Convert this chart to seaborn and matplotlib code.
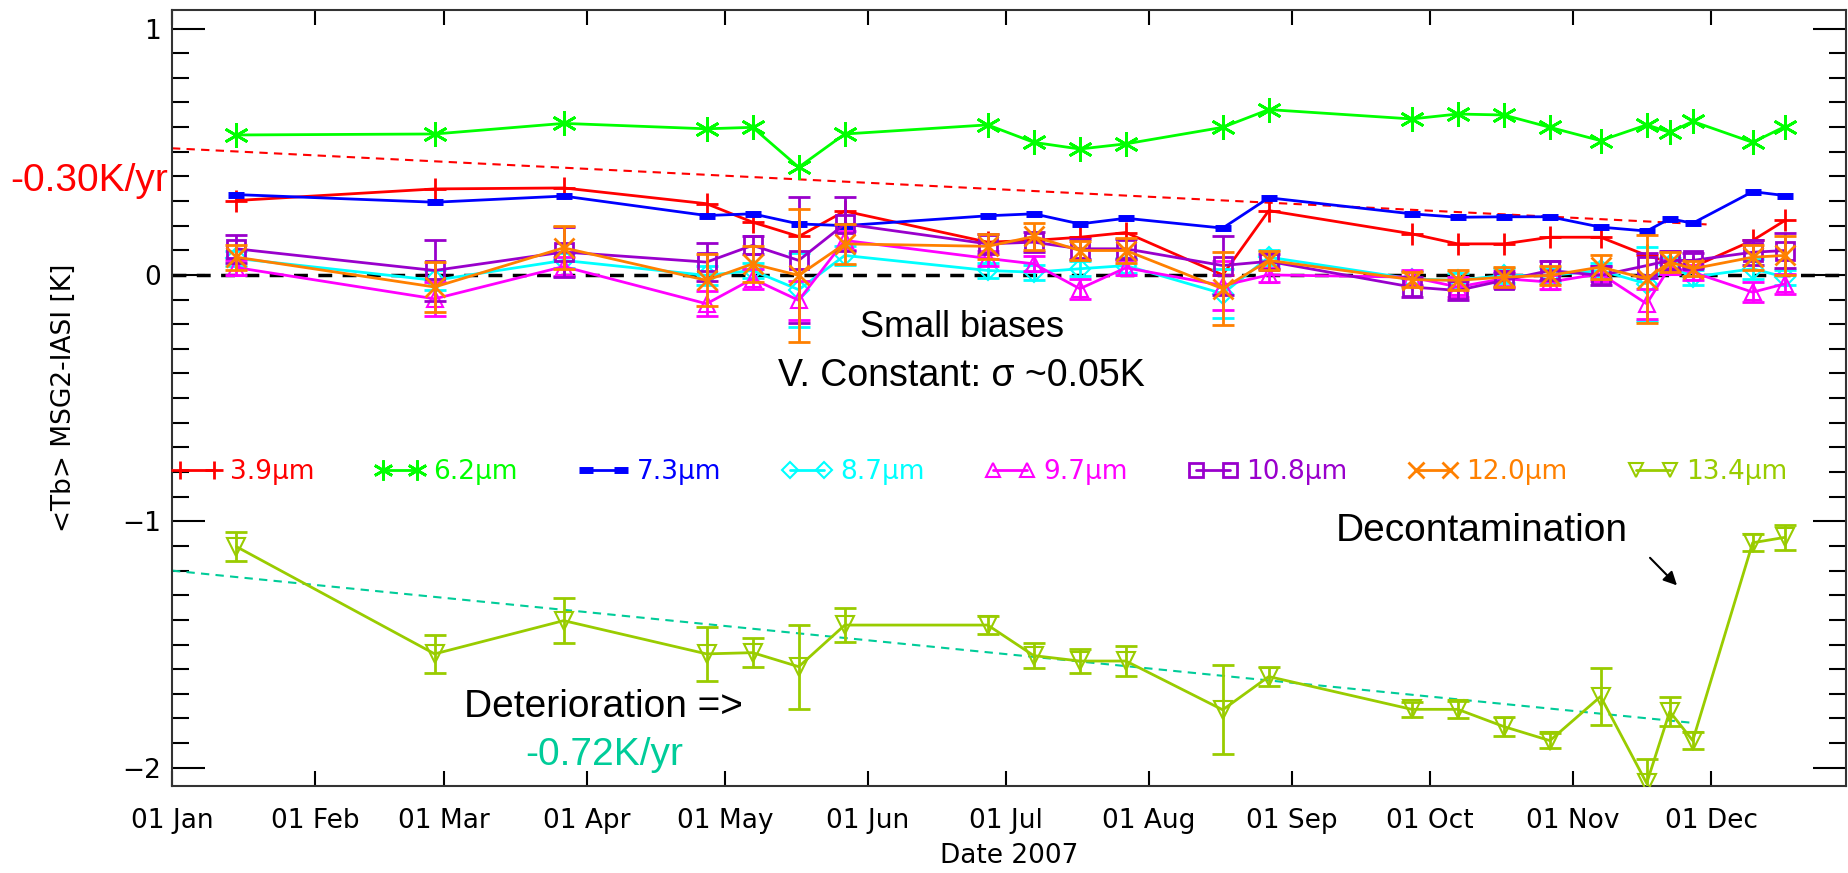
import pandas as pd
import numpy as np
import matplotlib
matplotlib.use("Agg")
import matplotlib.pyplot as plt
import matplotlib.dates as mdates
from matplotlib.ticker import MultipleLocator
from matplotlib.lines import Line2D
import seaborn as sns

# sampling dates (2007)
dates = ["2007-01-15", "2007-02-27", "2007-03-27", "2007-04-27", "2007-05-07", "2007-05-17",
         "2007-05-27", "2007-06-27", "2007-07-07", "2007-07-17", "2007-07-27", "2007-08-17",
         "2007-08-27", "2007-09-27", "2007-10-07", "2007-10-17", "2007-10-27", "2007-11-07",
         "2007-11-17", "2007-11-22", "2007-11-27", "2007-12-10", "2007-12-17"]

ch39 = [0.302, 0.349, 0.353, 0.289, 0.214, 0.156, 0.259, 0.133, 0.140, 0.153, 0.172, 0.000,
        0.261, 0.167, 0.126, 0.126, 0.153, 0.153, 0.079, 0.052, 0.032, 0.140, 0.221]
ch62 = [0.568, 0.572, 0.615, 0.593, 0.599, 0.437, 0.572, 0.609, 0.538, 0.511, 0.532, 0.599,
        0.671, 0.633, 0.653, 0.649, 0.599, 0.545, 0.609, 0.579, 0.623, 0.538, 0.602]
ch73 = [0.326, 0.295, 0.320, 0.241, 0.248, 0.207, 0.200, 0.240, 0.248, 0.207, 0.230, 0.190,
        0.313, 0.248, 0.234, 0.236, 0.236, 0.194, 0.178, 0.228, 0.210, 0.338, 0.322]
ch87 = [0.067, -0.022, 0.059, -0.002, 0.018, -0.060, 0.079, 0.018, 0.011, 0.025, 0.038, -0.076,
        0.072, -0.016, -0.022, -0.002, -0.002, 0.018, -0.036, 0.040, -0.009, 0.025, -0.009]
ch97 = [0.030, -0.097, 0.034, -0.117, -0.016, -0.103, 0.140, 0.067, 0.045, -0.056, 0.029, -0.043,
        0.000, -0.009, -0.049, -0.015, -0.029, 0.005, -0.117, 0.032, 0.011, -0.070, -0.036]
ch108 = [0.106, 0.018, 0.093, 0.052, 0.120, 0.059, 0.207, 0.126, 0.133, 0.106, 0.106, 0.038,
         0.055, -0.049, -0.063, -0.022, 0.018, -0.002, 0.038, 0.059, 0.059, 0.092, 0.099]
ch120 = [0.072, -0.049, 0.110, -0.022, 0.045, -0.002, 0.126, 0.116, 0.156, 0.099, 0.099, -0.056,
         0.059, -0.019, -0.022, -0.009, -0.002, 0.032, -0.016, 0.052, 0.025, 0.072, 0.079]
ch134 = [-1.103, -1.538, -1.403, -1.538, -1.533, -1.590, -1.421, -1.421, -1.545, -1.567, -1.567,
         -1.765, -1.630, -1.763, -1.763, -1.833, -1.890, -1.711, -2.063, -1.772, -1.890, -1.087, -1.065]

err87 = [0.03, 0.04, 0.03, 0.04, 0.03, 0.15, 0.04, 0.03, 0.03, 0.03, 0.03, 0.10,
         0.03, 0.03, 0.03, 0.03, 0.03, 0.03, 0.15, 0.03, 0.03, 0.04, 0.03]
err97 = [0.03, 0.07, 0.04, 0.05, 0.04, 0.08, 0.04, 0.03, 0.03, 0.04, 0.03, 0.10,
         0.03, 0.03, 0.04, 0.03, 0.03, 0.03, 0.06, 0.03, 0.03, 0.04, 0.04]
err108 = [0.057, 0.125, 0.10, 0.077, 0.036, 0.256, 0.11, 0.04, 0.04, 0.04, 0.04, 0.12,
          0.03, 0.04, 0.04, 0.03, 0.04, 0.04, 0.05, 0.04, 0.03, 0.05, 0.07]
err120 = [0.05, 0.10, 0.087, 0.106, 0.073, 0.27, 0.08, 0.05, 0.054, 0.04, 0.05, 0.147,
          0.04, 0.03, 0.04, 0.04, 0.04, 0.047, 0.18, 0.04, 0.03, 0.05, 0.08]
err134 = [0.06, 0.076, 0.09, 0.108, 0.06, 0.17, 0.068, 0.036, 0.05, 0.047, 0.06, 0.18,
          0.04, 0.03, 0.034, 0.04, 0.03, 0.117, 0.10, 0.06, 0.035, 0.034, 0.05]

# linear trends
trend39_dates = ["2007-01-01", "2007-11-30"]
trend39_vals = [0.514, 0.205]
trend134_dates = ["2007-01-01", "2007-11-27"]
trend134_vals = [-1.20, -1.818]

labels = ["3.9\u00b5m", "6.2\u00b5m", "7.3\u00b5m", "8.7\u00b5m", "9.7\u00b5m",
          "10.8\u00b5m", "12.0\u00b5m", "13.4\u00b5m"]
series = [ch39, ch62, ch73, ch87, ch97, ch108, ch120, ch134]
errors = [None, None, None, err87, err97, err108, err120, err134]
colors = ["#FF0000", "#00FF00", "#0000FF", "#00FFFF", "#FF00FF", "#9900CC", "#FF8000", "#99CC00"]
markers = ["+", (6, 2, 0), "_", "D", "^", "s", "x", "v"]
msizes = [16, 18, 12, 10, 12, 13, 14, 13]
mews = [2, 2, 5, 1.5, 1.5, 2, 2, 1.5]

sns.set_style("ticks")
plt.rcParams["font.family"] = ["DejaVu Sans"]
plt.rcParams["text.color"] = "black"
plt.rcParams["axes.labelcolor"] = "black"
plt.rcParams["xtick.color"] = "black"
plt.rcParams["ytick.color"] = "black"

fig = plt.figure(figsize=(18.49, 8.73), dpi=100)
ax = fig.add_axes([0.093, 0.0997, 0.9055, 0.8888])

x = pd.to_datetime(dates)

ax.axhline(0, color="black", lw=2.5, ls=(0, (4, 3)), zorder=1)

for vals, err, c, m, ms, mw in zip(series, errors, colors, markers, msizes, mews):
    sns.lineplot(x=x, y=vals, ax=ax, color=c, lw=2, marker=m, markersize=ms,
                 markerfacecolor="none", markeredgecolor=c, markeredgewidth=mw,
                 legend=False, zorder=3)
    if err is not None:
        ax.errorbar(x, vals, yerr=err, fmt="none", ecolor=c, elinewidth=2,
                    capsize=8, capthick=2, zorder=3)

ax.plot(pd.to_datetime(trend39_dates), trend39_vals, color="#FF0000", lw=1.5, ls=(0, (4, 3)), zorder=2)
ax.plot(pd.to_datetime(trend134_dates), trend134_vals, color="#00CC99", lw=1.5, ls=(0, (4, 3)), zorder=2)

# axes
x0 = pd.Timestamp("2007-01-01")
ax.set_xlim(x0, x0 + pd.Timedelta(days=363.3))
ax.set_ylim(-2.074, 1.075)
ax.xaxis.set_major_locator(mdates.MonthLocator())
ax.xaxis.set_major_formatter(mdates.DateFormatter("%d %b"))
ax.yaxis.set_major_locator(MultipleLocator(1))
ax.yaxis.set_minor_locator(MultipleLocator(0.1))
ax.tick_params(axis="both", which="both", direction="in", top=True, right=True,
               width=1.5, labelsize=19, colors="black")
ax.tick_params(axis="x", which="major", length=11, pad=16)
ax.tick_params(axis="x", which="minor", length=0)
ax.tick_params(axis="y", which="major", length=24, pad=8)
ax.tick_params(axis="y", which="minor", length=12)
for sp in ax.spines.values():
    sp.set_linewidth(1.5)
    sp.set_color("#333333")

ax.set_xlabel("Date 2007", fontsize=19, labelpad=6, color="black")
ax.set_ylabel("<Tb> MSG2-IASI [K]", fontsize=19, color="black")
ax.yaxis.set_label_coords(-0.057, 0.5)

# legend row
handles = [Line2D([], [], color=c, lw=2, marker=m, markersize=ms * 0.8,
                  markerfacecolor="none", markeredgecolor=c, markeredgewidth=mw)
           for c, m, ms, mw in zip(colors, markers, msizes, mews)]
ax.legend(handles, labels, loc="center left", bbox_to_anchor=(0.0, 0.4046), ncol=8,
          frameon=False, numpoints=2, handlelength=1.9, handletextpad=0.3,
          columnspacing=2.3, fontsize=19, labelcolor="linecolor", borderaxespad=0, borderpad=0)

# annotations
tf = ["Liberation Sans", "DejaVu Sans"]
ax.text(-0.002, 0.383, "-0.30K/yr", color="#FF0000", fontsize=28, family=tf,
        ha="right", va="center", transform=ax.get_yaxis_transform())
ax.text(x0 + pd.Timedelta(days=171.4), -0.213, "Small biases", fontsize=26, family=tf,
        color="black", ha="center", va="center")
ax.text(x0 + pd.Timedelta(days=171.4), -0.41, "V. Constant: \u03c3 ~0.05K", fontsize=27, family=tf,
        color="black", ha="center", va="center")
ax.text(x0 + pd.Timedelta(days=93.7), -1.753, "Deterioration =>", fontsize=28, family=tf,
        color="black", ha="center", va="center")
ax.text(x0 + pd.Timedelta(days=93.7), -1.948, "-0.72K/yr", color="#00CC99", fontsize=28, family=tf,
        ha="center", va="center")
ax.text(x0 + pd.Timedelta(days=284.2), -1.04, "Decontamination", fontsize=28, family=tf,
        color="black", ha="center", va="center")
ax.annotate("", xy=(x0 + pd.Timedelta(days=327.0), -1.268),
            xytext=(x0 + pd.Timedelta(days=320.3), -1.140),
            arrowprops=dict(arrowstyle="-|>", color="black", lw=1.5, mutation_scale=20))

fig.savefig("out.png", dpi=100)
